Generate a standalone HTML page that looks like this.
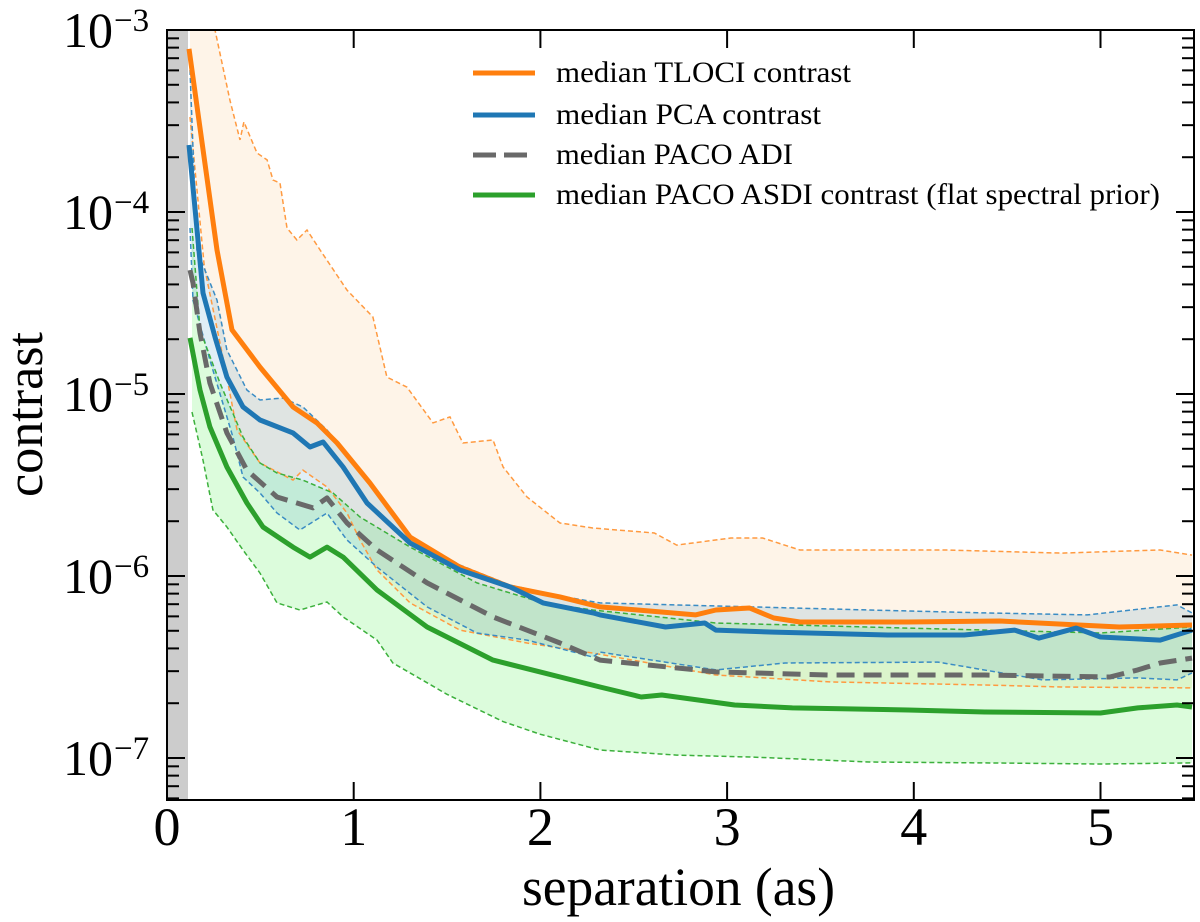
<!DOCTYPE html>
<html><head><meta charset="utf-8"><style>
html,body{margin:0;padding:0;background:#fff;}
svg{display:block;font-family:"Liberation Serif","DejaVu Serif",serif;}
</style></head><body>
<svg id="chart" width="1200" height="922" viewBox="0 0 1200 922" xmlns="http://www.w3.org/2000/svg">
<g id="fills"></g>
<rect x="167" y="30" width="21" height="770" fill="#cccccc"/>
<g id="bounds"></g>
<g id="medians"></g>
<g id="axes"></g>
<g id="legend">
  <line x1="473" y1="73" x2="535" y2="73" stroke="#ff7f0e" stroke-width="5"/>
  <text x="556" y="82" font-size="30" textLength="295" lengthAdjust="spacingAndGlyphs">median TLOCI contrast</text>
  <line x1="473" y1="115" x2="535" y2="115" stroke="#1f77b4" stroke-width="5"/>
  <text x="556" y="124" font-size="30" textLength="265" lengthAdjust="spacingAndGlyphs">median PCA contrast</text>
  <line x1="473" y1="155" x2="535" y2="155" stroke="#696969" stroke-width="5" stroke-dasharray="23,8"/>
  <text x="556" y="164" font-size="30" textLength="237" lengthAdjust="spacingAndGlyphs">median PACO ADI</text>
  <line x1="473" y1="195" x2="535" y2="195" stroke="#2ca02c" stroke-width="5"/>
  <text x="556" y="204" font-size="30" textLength="604" lengthAdjust="spacingAndGlyphs">median PACO ASDI contrast (flat spectral prior)</text>
</g>
<text x="522" y="905" font-size="54" textLength="313" lengthAdjust="spacingAndGlyphs">separation (as)</text>
<text transform="translate(42,497) rotate(-90)" x="0" y="0" font-size="52" textLength="165" lengthAdjust="spacingAndGlyphs">contrast</text>
</svg>
<script>
// ---- data (separation in arcsec, contrast as log10) ----
const tlociSep = [0.118,0.268,0.348,0.498,0.675,0.803,0.911,1.087,1.302,1.569,1.837,2.105,2.319,2.52,2.83,2.94,3.12,3.25,3.39,3.97,4.46,5.10,5.49];
const tlociLog = [-3.104,-4.209,-4.648,-4.852,-5.071,-5.159,-5.269,-5.489,-5.786,-5.951,-6.060,-6.115,-6.170,-6.187,-6.214,-6.187,-6.176,-6.231,-6.253,-6.253,-6.247,-6.280,-6.269];
const pcaSep = [0.118,0.193,0.257,0.321,0.407,0.498,0.675,0.766,0.836,0.943,1.071,1.302,1.569,1.837,2.014,2.282,2.319,2.67,2.88,2.94,3.25,3.86,4.27,4.54,4.67,4.87,5.0,5.32,5.49];
const pcaLog = [-3.632,-4.445,-4.687,-4.907,-5.071,-5.143,-5.214,-5.291,-5.264,-5.401,-5.599,-5.819,-5.967,-6.060,-6.148,-6.203,-6.214,-6.280,-6.258,-6.297,-6.308,-6.324,-6.324,-6.297,-6.341,-6.286,-6.335,-6.352,-6.297];
const adiSep = [0.123,0.139,0.177,0.23,0.321,0.428,0.589,0.782,0.857,0.964,1.125,1.393,1.746,2.105,2.319,2.94,3.55,4.38,5.05,5.2,5.32,5.49];
const adiLog = [-4.319,-4.39,-4.665,-4.94,-5.214,-5.418,-5.566,-5.626,-5.571,-5.709,-5.857,-6.038,-6.225,-6.368,-6.462,-6.527,-6.544,-6.544,-6.555,-6.516,-6.478,-6.451];
const asdiSep = [0.123,0.177,0.23,0.321,0.428,0.514,0.675,0.766,0.857,0.943,1.125,1.393,1.746,2.319,2.54,2.65,3.04,3.35,3.97,4.38,5.0,5.2,5.41,5.49];
const asdiLog = [-4.692,-4.978,-5.181,-5.401,-5.599,-5.731,-5.841,-5.896,-5.841,-5.896,-6.077,-6.280,-6.462,-6.610,-6.665,-6.654,-6.709,-6.725,-6.736,-6.747,-6.753,-6.725,-6.709,-6.72];
// band boundaries
const tlociUpSep = [0.123,0.20,0.257,0.337,0.391,0.412,0.482,0.536,0.568,0.605,0.643,0.696,0.75,0.82,0.964,1.103,1.178,1.285,1.425,1.516,1.585,1.746,1.8,1.928,2.105,2.28,2.61,2.73,3.02,3.19,3.39,4.17,4.79,5.32,5.49];
const tlociUpLog = [-2.8,-2.8,-3.0,-3.385,-3.604,-3.505,-3.676,-3.714,-3.824,-3.841,-4.088,-4.154,-4.099,-4.209,-4.429,-4.577,-4.907,-4.962,-5.159,-5.126,-5.269,-5.253,-5.401,-5.566,-5.709,-5.736,-5.764,-5.83,-5.791,-5.791,-5.857,-5.857,-5.874,-5.857,-5.885];
const tlociLoSep = [0.123,0.2,0.3,0.375,0.498,0.675,0.728,0.857,0.964,1.034,1.125,1.302,1.569,1.928,2.28,2.94,3.55,4.38,4.79,5.49];
const tlociLoLog = [-3.478,-4.3,-4.8,-5.198,-5.379,-5.473,-5.418,-5.511,-5.654,-5.802,-5.967,-6.148,-6.297,-6.368,-6.423,-6.544,-6.582,-6.599,-6.61,-6.615];
const pcaUpSep = [0.123,0.16,0.268,0.321,0.428,0.498,0.621,0.728,0.857,1.087,1.302,1.569,1.837,2.105,2.319,3.76,4.38,4.93,5.41,5.49];
const pcaUpLog = [-3.22,-4.209,-4.484,-4.758,-4.978,-5.033,-5.022,-5.071,-5.198,-5.48,-5.78,-5.94,-6.05,-6.11,-6.148,-6.187,-6.203,-6.214,-6.159,-6.203];
const pcaLoSep = [0.123,0.139,0.23,0.353,0.407,0.498,0.589,0.712,0.857,0.964,1.125,1.393,1.66,1.928,2.28,2.319,2.94,3.31,4.13,4.69,5.2,5.41,5.49];
const pcaLoLog = [-4.088,-4.484,-4.813,-5.236,-5.456,-5.544,-5.654,-5.747,-5.654,-5.802,-5.951,-6.17,-6.313,-6.352,-6.445,-6.418,-6.516,-6.478,-6.473,-6.571,-6.56,-6.571,-6.533];
const asdiUpSep = [0.134,0.177,0.284,0.407,0.498,0.589,0.728,0.889,1.034,1.302,1.66,2.014,2.28,2.94,3.97,5.0,5.49];
const asdiUpLog = [-4.088,-4.648,-4.94,-5.236,-5.379,-5.434,-5.473,-5.544,-5.676,-5.841,-6.038,-6.148,-6.187,-6.258,-6.286,-6.313,-6.28];
const asdiLoSep = [0.134,0.193,0.246,0.321,0.407,0.498,0.589,0.712,0.857,0.943,1.125,1.21,1.5,1.8,2.0,2.319,2.73,3.14,3.76,4.38,5.0,5.49];
const asdiLoLog = [-5.099,-5.363,-5.637,-5.731,-5.857,-5.984,-6.148,-6.187,-6.143,-6.225,-6.352,-6.478,-6.65,-6.8,-6.87,-6.956,-6.984,-6.995,-7.022,-7.027,-7.033,-7.027];
const xTicks = [0,1,2,3,4,5];
const xTickLabels = ["0","1","2","3","4","5"];
const yDecades = [-3,-4,-5,-6,-7];
const yTickExps = ["−3","−4","−5","−6","−7"];

// ---- axes ----
const L=167,R=1194,T=30,B=800;
const xs = v => L + v*186.7;
const ys = lg => T + (-3 - lg)*182;
const NS='http://www.w3.org/2000/svg';
function mk(tag, parent, attrs){const e=document.createElementNS(NS,tag);for(const k in attrs)e.setAttribute(k,attrs[k]);parent.appendChild(e);return e;}
function pts(sx,sy){return sx.map((v,i)=>xs(v).toFixed(1)+','+Math.max(T-5,ys(sy[i])).toFixed(1));}
const clip = mk('clipPath', document.getElementById('chart'), {id:'pc'});
mk('rect', clip, {x:L,y:T,width:R-L,height:B-T});

const fills=document.getElementById('fills');
fills.setAttribute('clip-path','url(#pc)');
function band(us,ul,ls,ll,col,name){
  const p = pts(us,ul).concat(pts(ls,ll).reverse());
  const e=mk('polygon',fills,{points:p.join(' '),fill:col,stroke:'none'});
  
  
}
band(tlociUpSep,tlociUpLog,tlociLoSep,tlociLoLog,'rgba(250,180,100,0.15)','tloci-band');
band(asdiUpSep,asdiUpLog,asdiLoSep,asdiLoLog,'rgba(130,245,130,0.28)','paco-asdi-band');
band(pcaUpSep,pcaUpLog,pcaLoSep,pcaLoLog,'rgba(60,150,200,0.16)','pca-band');

const bounds=document.getElementById('bounds');
bounds.setAttribute('clip-path','url(#pc)');
function bline(sx,sy,col,name){
  const e=mk('polyline',bounds,{points:pts(sx,sy).join(' '),fill:'none',stroke:col,'stroke-width':1.5,'stroke-dasharray':'5,3'});
  
  
}
bline(tlociUpSep,tlociUpLog,'#ff9a40','tloci-band-upper');
bline(tlociLoSep,tlociLoLog,'#ff9a40','tloci-band-lower');
bline(pcaUpSep,pcaUpLog,'#3a8cc4','pca-band-upper');
bline(pcaLoSep,pcaLoLog,'#3a8cc4','pca-band-lower');
bline(asdiUpSep,asdiUpLog,'#3cb03c','paco-asdi-band-upper');
bline(asdiLoSep,asdiLoLog,'#3cb03c','paco-asdi-band-lower');

const med=document.getElementById('medians');
med.setAttribute('clip-path','url(#pc)');
function mline(sx,sy,col,name,dash){
  const a={points:pts(sx,sy).join(' '),fill:'none',stroke:col,'stroke-width':5,'stroke-linejoin':'round'};
  if(dash)a['stroke-dasharray']=dash;
  const e=mk('polyline',med,a);
  
  
}
mline(asdiSep,asdiLog,'#2ca02c','paco-asdi-median');
mline(adiSep,adiLog,'#696969','paco-adi-median','18,9');
mline(tlociSep,tlociLog,'#ff7f0e','tloci-median');
mline(pcaSep,pcaLog,'#1f77b4','pca-median');

// ---- axes drawing ----
const ax=document.getElementById('axes');
const frame=mk('rect',ax,{x:L,y:T,width:R-L,height:B-T,fill:'none',stroke:'#000','stroke-width':2});


xTicks.forEach((v,i)=>{
  const x=xs(v);
  mk('line',ax,{x1:x,y1:B,x2:x,y2:B-18,stroke:'#000','stroke-width':2});
  mk('line',ax,{x1:x,y1:T,x2:x,y2:T+18,stroke:'#000','stroke-width':2});
  const t=mk('text',ax,{x:x,y:845,'font-size':54,'text-anchor':'middle'});
  t.textContent=xTickLabels[i];
  
  
});
for(let d=-3; d>=-8; d--){
  for(let m=1;m<=9;m++){
    const lg=d+Math.log10(m);
    if(lg>-3.0001||lg<-7.235) { if(!(m===1&&d===-3)) continue; }
    const y=ys(lg); const len=m===1?18:12;
    mk('line',ax,{x1:L,y1:y,x2:L+len,y2:y,stroke:'#000','stroke-width':2});
    mk('line',ax,{x1:R,y1:y,x2:R-len,y2:y,stroke:'#000','stroke-width':2});
  }
}
yDecades.forEach((d,i)=>{
  const y=ys(d);
  const t=mk('text',ax,{x:113,y:y+17,'font-size':50,'text-anchor':'end'});
  t.textContent='10';
  
  
  const e=mk('text',ax,{x:114,y:y+1,'font-size':33});
  e.textContent=yTickExps[i];
  
  
});
</script>
</body></html>
